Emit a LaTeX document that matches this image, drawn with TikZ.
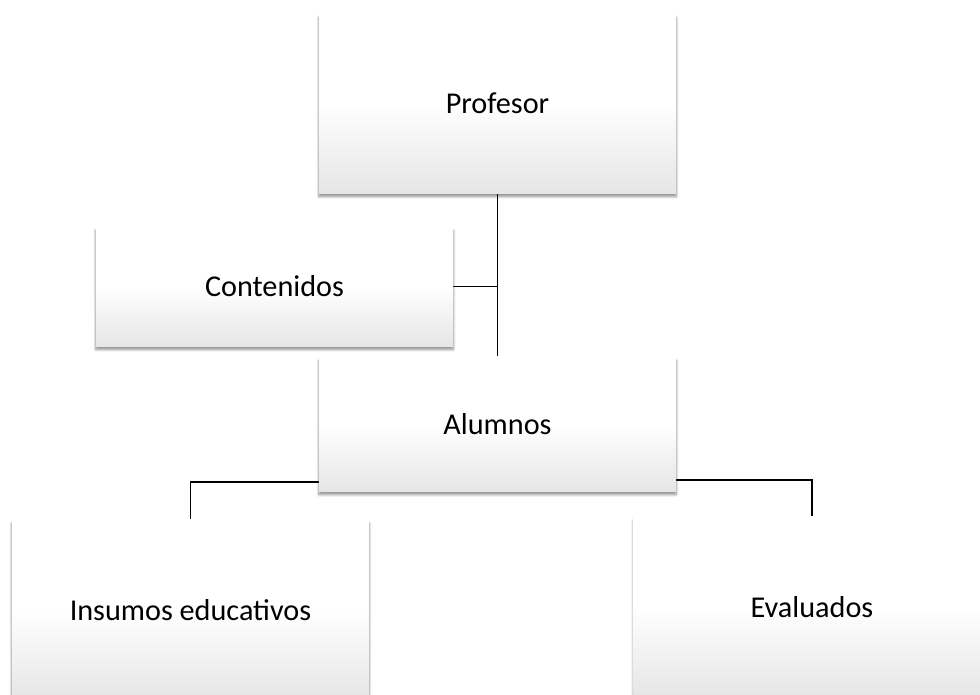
\documentclass[tikz,border=0pt]{standalone}
\usepackage{fontspec}
\setmainfont{Carlito}
\usetikzlibrary{shadows.blur,backgrounds}

\begin{document}
\begin{tikzpicture}[x=0.025cm, y=-0.025cm,
            caja/.style={rectangle, minimum width=8.925cm, inner sep=0pt,
                shading=axis, top color=white, bottom color=gray!20, middle color=white,
                blur shadow={shadow xshift=0pt, shadow yshift=-2.5pt, shadow blur steps=6, shadow opacity=45},
                font=\fontsize{21.5}{26}\selectfont},
            linea/.style={draw, line width=1.3pt}]
        \useasboundingbox (0,0) rectangle (980,695);
        \node[caja, minimum height=4.475cm] (profesor) at (497.5,103.5) {Profesor};
        \node[caja, minimum height=2.975cm] (contenidos) at (274.5,286.5) {Contenidos};
        \node[caja, minimum height=3.35cm] (alumnos) at (497.5,424) {Alumnos};
        \node[caja, minimum height=4.5cm] (insumos) at (190.5,610) {Insumos educativos};
        \node[caja, minimum height=4.5cm] (evaluados) at (812,607) {Evaluados};
        \coordinate (izq) at (319,482);
        \coordinate (der) at (676,480);
        \begin{scope}[on background layer]
            \path[linea] (profesor.south) -- (alumnos.north);
            \path[linea] (contenidos.east) -- (contenidos.east -| profesor.south);
            \path[linea] (izq) -| (insumos.north);
            \path[linea] (der) -| (evaluados.north);
        \end{scope}
\end{tikzpicture}
\end{document}
